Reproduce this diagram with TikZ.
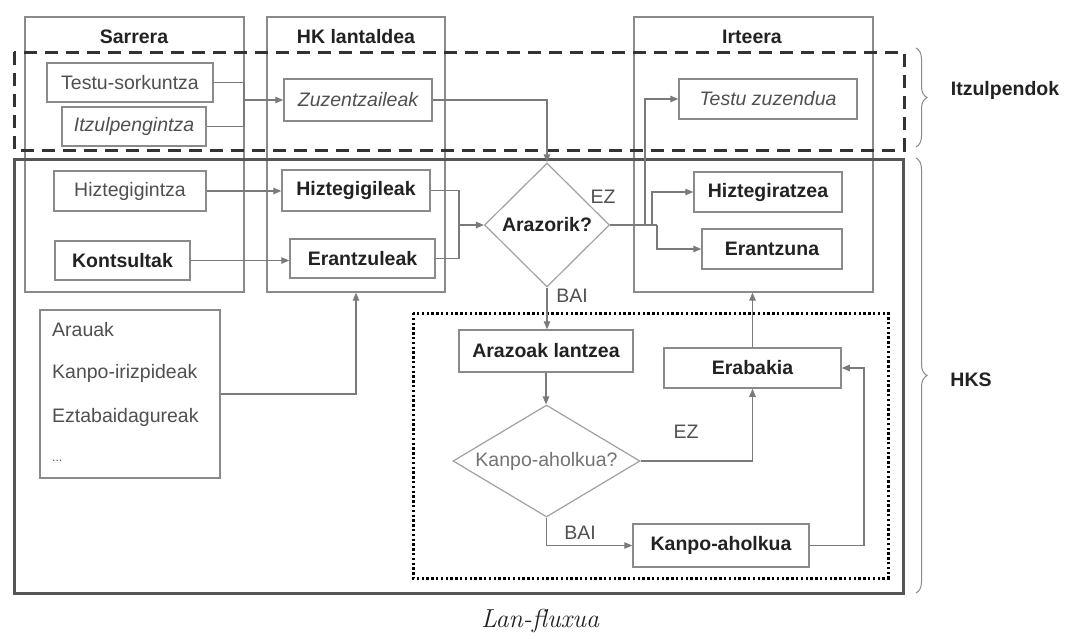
\documentclass[tikz,border=0pt]{standalone}
\usepackage{fontspec}
\setsansfont{Liberation Sans}
\usetikzlibrary{shapes.geometric,arrows.meta,decorations.pathreplacing}
\definecolor{boxgray}{HTML}{8A8A8A}
\definecolor{linegray}{HTML}{7A7A7A}
\definecolor{txtdark}{HTML}{222222}
\definecolor{txtreg}{HTML}{505050}
\definecolor{framedark}{HTML}{555555}
\definecolor{dashdark}{HTML}{333333}
\begin{document}
\begin{tikzpicture}[x=1pt,y=-1pt,
  every node/.style={font=\sffamily\fontsize{19.5}{22}\selectfont, inner sep=0pt},
  colbox/.style={draw=boxgray, line width=1.3pt, rectangle},
  bx/.style={draw=boxgray, line width=1.5pt, rectangle, text=txtreg},
  bxb/.style={bx, text=txtdark, font=\sffamily\bfseries\fontsize{19.5}{22}\selectfont},
  bxi/.style={bx, font=\sffamily\itshape\fontsize{19.5}{22}\selectfont},
  dia/.style={draw=boxgray!80, line width=1.2pt, diamond},
  ttl/.style={text=txtdark, font=\sffamily\bfseries\fontsize{19.5}{22}\selectfont},
  lbl/.style={text=txtreg},
  ln/.style={draw=linegray, line width=1.2pt},
  arr/.style={ln, -{Triangle[length=8pt,width=6.5pt]}},
  brc/.style={draw=boxgray, line width=1pt, decorate, decoration={brace, amplitude=11pt}}
]
\useasboundingbox (0,0) rectangle (1065,638);
\fill[white] (0,0) rectangle (1065,638);

% column boxes
\node[colbox, minimum width=219pt, minimum height=275pt] (sar) at (134.5,154.5) {};
\node[colbox, minimum width=178pt, minimum height=275pt] (hk) at (356,154.5) {};
\node[colbox, minimum width=239pt, minimum height=275pt] (irt) at (753.5,154.5) {};
\node[ttl] (tsar) at (134,37) {Sarrera};
\node[ttl] (thk) at (356,37) {HK lantaldea};
\node[ttl] (tirt) at (752,37) {Irteera};

% group frames
\draw[dashdark, line width=3pt, dash pattern=on 13pt off 8pt] (14,52) rectangle (904,150);
\draw[framedark, line width=3pt] (14,159) rectangle (903,593);
\draw[black, line width=3pt, dash pattern=on 2.4pt off 2.4pt] (413,313) rectangle (888,578);

% boxes
\node[bx, minimum width=166pt, minimum height=39pt] (testu) at (130,82.5) {Testu-sorkuntza};
\node[bxi, minimum width=144pt, minimum height=39pt] (itzul) at (134,126.5) {Itzulpengintza};
\node[bxi, minimum width=148pt, minimum height=42pt] (zuzen) at (358,100) {Zuzentzaileak};
\node[bx, minimum width=152pt, minimum height=40pt] (hizt) at (130,191) {Hiztegigintza};
\node[bxb, minimum width=135pt, minimum height=39pt] (kont) at (122.5,260.5) {Kontsultak};
\node[bxb, minimum width=148pt, minimum height=41pt] (hiztgil) at (356,190.5) {Hiztegigileak};
\node[bxb, minimum width=145pt, minimum height=39pt] (erantzl) at (362.5,258.5) {Erantzuleak};
\node[dia, text=txtdark, font=\sffamily\bfseries\fontsize{19.5}{22}\selectfont, minimum width=125pt, minimum height=124pt, aspect=1] (araz) at (547,225) {Arazorik?};
\node[bxi, minimum width=178pt, minimum height=40pt] (tzuzen) at (768,99) {Testu zuzendua};
\node[bxb, minimum width=148pt, minimum height=40pt] (hiztrat) at (768,192) {Hiztegiratzea};
\node[bxb, minimum width=140pt, minimum height=40pt] (erantz) at (772,249) {Erantzuna};
\node[bx, minimum width=180pt, minimum height=168pt] (arauak) at (130,394) {};
\node[lbl, anchor=west] (l1) at (52,330) {Arauak};
\node[lbl, anchor=west] (l2) at (52,373) {Kanpo-irizpideak};
\node[lbl, anchor=west] (l3) at (52,417) {Eztabaidagureak};
\node[lbl, anchor=west] (l4) at (52,461) {\fontsize{12}{14}\selectfont ...};
\node[bxb, minimum width=174pt, minimum height=42pt] (arazl) at (546,351) {Arazoak lantzea};
\node[dia, text=txtreg!80, minimum width=187pt, minimum height=112pt, aspect=1.67] (kanpoq) at (546.5,461) {Kanpo-aholkua?};
\node[bxb, minimum width=177pt, minimum height=40pt] (erab) at (752.5,368) {Erabakia};
\node[bxb, minimum width=176pt, minimum height=43pt] (kanpoa) at (721,545.5) {Kanpo-aholkua};

% connector junctions
\coordinate (j1) at (244,100);
\coordinate (j2) at (459,225);
\coordinate (ja) at (645,225);
\coordinate (jb) at (652,225);
\coordinate (jc) at (657,225);
\coordinate (jd) at (864,545.5);

% connectors
\draw[arr] (testu.east) -| (j1) -- (zuzen.west);
\draw[ln] (itzul.east) -| (j1);
\draw[arr] (hizt.east) -- (hizt.east -| hiztgil.west);
\draw[arr] (kont.east) -- (kont.east -| erantzl.west);
\draw[ln] (hiztgil.east) -| (j2);
\draw[ln] (erantzl.east) -| (j2);
\draw[arr] (j2) -- (araz.west);
\draw[arr] (zuzen.east) -| (araz.north);
\draw[ln] (araz.east) -- (jc);
\draw[arr] (jc) |- (erantz.west);
\draw[arr] (ja) |- (tzuzen.west);
\draw[arr] (jb) |- (hiztrat.west);
\draw[arr] (araz.south) -- (araz.south |- arazl.north);
\draw[arr] (arazl.south) -- (arazl.south |- kanpoq.north);
\draw[arr] (kanpoq.east) -| (erab.south);
\draw[arr] (kanpoq.south) |- (kanpoa.west);
\draw[ln] (kanpoa.east) -- (jd);
\draw[arr] (jd) |- (erab.east);
\draw[arr] (erab.north) -- (erab.north |- irt.south);
\draw[arr] (arauak.east) -| (hk.south);

% branch labels
\node[lbl] (ez1) at (603,197) {EZ};
\node[lbl] (bai1) at (572,296) {BAI};
\node[lbl] (ez2) at (686,432) {EZ};
\node[lbl] (bai2) at (580,533) {BAI};

% braces and group labels
\coordinate (b1t) at (916,48);
\coordinate (b1b) at (916,147);
\coordinate (b2t) at (916,158);
\coordinate (b2b) at (916,593);
\draw[brc] (b1t) -- (b1b);
\draw[brc] (b2t) -- (b2b);
\node[ttl] (itz) at (1005,90) {Itzulpendok};
\node[ttl] (hks) at (971,380) {HKS};

% caption
\node[font=\rmfamily\itshape\fontsize{26}{30}\selectfont, text=txtdark] (cap) at (540,621) {Lan-fluxua};
\end{tikzpicture}
\end{document}
